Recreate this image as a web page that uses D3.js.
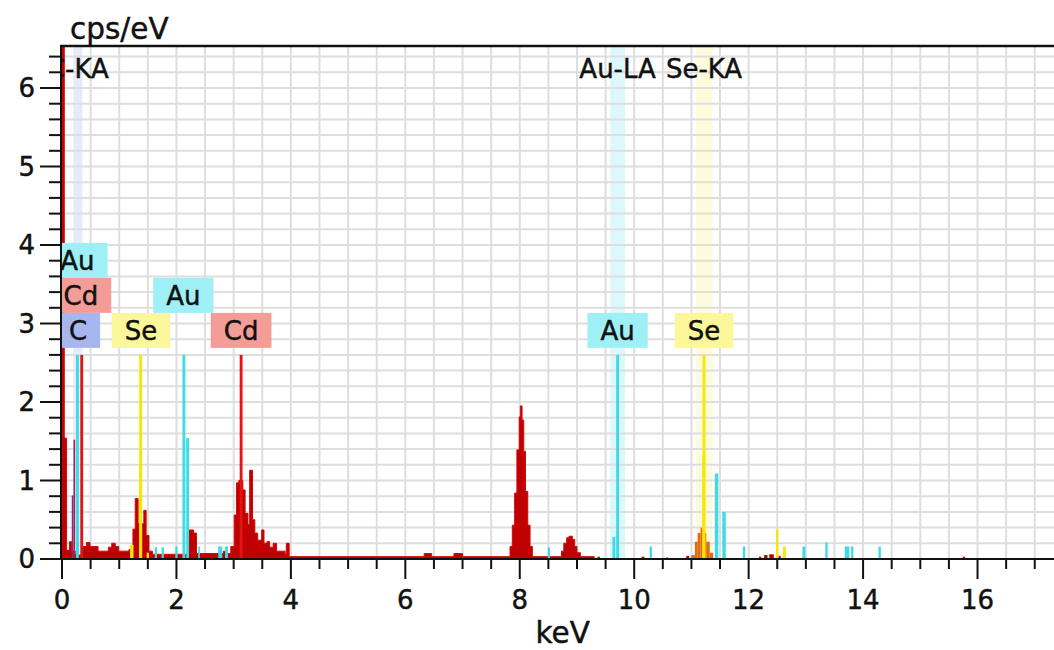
<!DOCTYPE html>
<html>
<head>
<meta charset="utf-8">
<script src="https://cdn.jsdelivr.net/npm/d3@7"></script>
<style>
  html, body { margin: 0; padding: 0; background: #fff; }
  svg { display: block; font-family: "DejaVu Sans", Verdana, sans-serif; }
  svg text { stroke: currentColor; stroke-width: 0.45px; color: #111; }
</style>
</head>
<body>
<svg id="chart" width="1054" height="650"></svg>
<script>
// ---- EDS spectrum data (energy in keV, intensity in cps/eV) ----

// Measured spectrum as a step histogram: [channel start keV, cps/eV]; each step runs to the next start.
const spectrumSteps = [
  [0.00, 7.00], [0.04, 1.54], [0.08, 0.11], [0.13, 0.22], [0.17, 0.10], [0.23, 0.05],
  [0.36, 0.16], [0.43, 0.21], [0.49, 0.16], [0.63, 0.10], [0.81, 0.15], [0.87, 0.20],
  [0.93, 0.16], [0.99, 0.10], [1.17, 0.12], [1.24, 0.38], [1.28, 0.77], [1.33, 0.45],
  [1.43, 0.62], [1.47, 0.30], [1.52, 0.10], [1.58, 0.06], [2.22, 0.37], [2.30, 0.33],
  [2.35, 0.07], [2.82, 0.10], [2.86, 0.07], [2.95, 0.16], [3.01, 0.56], [3.05, 0.97],
  [3.09, 1.00], [3.16, 0.88], [3.20, 0.58], [3.25, 0.44], [3.28, 1.13], [3.33, 0.50],
  [3.37, 0.33], [3.42, 0.24], [3.49, 0.37], [3.53, 0.20], [3.58, 0.22], [3.63, 0.15],
  [3.69, 0.20], [3.75, 0.10], [3.90, 0.06], [3.92, 0.20], [3.97, 0.03], [6.33, 0.07],
  [6.46, 0.03], [6.85, 0.07], [7.00, 0.03], [7.83, 0.16], [7.87, 0.43], [7.91, 0.84],
  [7.95, 1.39], [7.99, 1.81], [8.01, 1.95], [8.04, 1.77], [8.07, 1.37], [8.10, 0.86],
  [8.14, 0.43], [8.18, 0.16], [8.22, 0.03], [8.73, 0.10], [8.77, 0.20], [8.82, 0.27],
  [8.86, 0.29], [8.92, 0.25], [8.96, 0.16], [9.00, 0.08], [9.06, 0.03], [9.30, 0.00]
];

// Isolated counts above 9.3 keV: [start keV, end keV, cps/eV]
const sparseCounts = [
  [9.36, 9.40, 0.03], [10.13, 10.18, 0.03], [10.56, 10.59, 0.02], [10.91, 10.96, 0.04],
  [12.18, 12.22, 0.03], [12.27, 12.33, 0.05], [12.36, 12.44, 0.06], [12.52, 12.56, 0.04],
  [15.74, 15.78, 0.03]
];

// Fitted element contributions: [start keV, end keV, cps/eV]
const carbonFit = [[0.17, 0.20, 0.81], [0.20, 0.23, 1.52]];
const goldFit = [
  [1.62, 1.66, 0.15], [1.74, 1.78, 0.15], [1.98, 2.02, 0.16], [2.17, 2.22, 1.54],
  [2.38, 2.41, 0.16], [2.73, 2.80, 0.16], [2.85, 2.90, 0.16], [8.49, 8.53, 0.15],
  [9.62, 9.67, 0.28], [10.27, 10.31, 0.16], [11.19, 11.23, 0.16], [11.41, 11.47, 1.09],
  [11.54, 11.60, 0.60], [11.90, 11.94, 0.16], [12.94, 12.99, 0.16], [13.34, 13.38, 0.21],
  [13.68, 13.76, 0.16], [13.79, 13.83, 0.16], [14.27, 14.31, 0.16]
];
const seleniumKFit = [
  [11.00, 11.06, 0.05], [11.06, 11.11, 0.22], [11.11, 11.16, 0.33], [11.16, 11.22, 0.40],
  [11.22, 11.26, 0.33], [11.26, 11.32, 0.22], [11.32, 11.38, 0.08]
];
const seleniumFit = [
  [1.19, 1.25, 0.18], [1.35, 1.40, 1.22], [1.48, 1.52, 0.08], [11.19, 11.24, 1.32],
  [12.48, 12.52, 0.38], [12.60, 12.65, 0.16]
];

// Line markers: [keV, element]
const markerHeight = 2.6;
const lineMarkers = [
  [0.27, "Au"], [0.345, "Cd"], [1.375, "Se"], [2.13, "Au"], [3.13, "Cd"], [9.71, "Au"], [11.22, "Se"]
];

// Element tags stacked above the markers: [label, keV, row]
const elementTags = [
  ["Au", 0.27, 2], ["Cd", 0.33, 1], ["C", 0.28, 0], ["Se", 1.38, 0],
  ["Au", 2.12, 1], ["Cd", 3.13, 0], ["Au", 9.71, 0], ["Se", 11.22, 0]
];

// Selected line names with their energy window half-widths: [name, keV, half width keV, element]
const lineWindows = [
  ["C-KA", 0.277, 0.08, "C"], ["Au-LA", 9.71, 0.13, "Au"], ["Se-KA", 11.22, 0.145, "Se"]
];

const xTicks = [0, 2, 4, 6, 8, 10, 12, 14, 16];
const yTicks = [0, 1, 2, 3, 4, 5, 6];

// ---- styling ----
const elementColor = { Au: "#3cdbe6", Se: "#f5e800", Cd: "#e41414", C: "#8c2d64" };
const tagColor = { Au: "#9ff0f6", Cd: "#f49c96", C: "#a8b6f0", Se: "#fcf79a" };
const windowColor = { C: "#e6ebfa", Au: "#dcf8fc", Se: "#fdfbdc" };

const svg = d3.select("#chart");
const plotLeft = 62, plotRight = 1054, plotTop = 46, plotBottom = 559;

const x = d3.scaleLinear().domain([0, (plotRight - plotLeft) / 57.22]).range([plotLeft, plotRight]);
const y = d3.scaleLinear().domain([0, (plotBottom - plotTop) / 78.5]).range([plotBottom, plotTop]);

svg.append("defs").append("clipPath").attr("id", "plot")
  .append("rect").attr("x", plotLeft).attr("y", plotTop)
  .attr("width", plotRight - plotLeft).attr("height", plotBottom - plotTop);

const plot = svg.append("g").attr("clip-path", "url(#plot)");

// line energy windows
plot.selectAll("rect.window").data(lineWindows).join("rect")
  .attr("class", "window")
  .attr("x", d => x(d[1] - d[2])).attr("width", d => x(d[1] + d[2]) - x(d[1] - d[2]))
  .attr("y", plotTop).attr("height", plotBottom - plotTop)
  .attr("fill", d => windowColor[d[3]]);

// grid
const gx = d3.range(0.5, 17.5, 0.5);
const gy = d3.range(1, 33).map(i => i * 0.2);
plot.selectAll("line.gx").data(gx).join("line")
  .attr("class", "gx")
  .attr("x1", d => x(d)).attr("x2", d => x(d)).attr("y1", plotTop).attr("y2", plotBottom)
  .attr("stroke", "#dedede").attr("stroke-width", 2);
plot.selectAll("line.gy").data(gy).join("line")
  .attr("class", "gy")
  .attr("x1", plotLeft).attr("x2", plotRight).attr("y1", d => y(d)).attr("y2", d => y(d))
  .attr("stroke", "#dedede").attr("stroke-width", 2);

// measured spectrum: continuous step area, plus isolated channels
const spectrumArea = d3.area().curve(d3.curveStepAfter)
  .x(d => x(d[0])).y0(y(0)).y1(d => y(d[1]));
plot.append("path").datum(spectrumSteps)
  .attr("d", spectrumArea)
  .attr("fill", "#c00000").attr("stroke", "#d00808").attr("stroke-width", 1);

function drawBars(data, fill) {
  plot.append("g").selectAll("rect").data(data.filter(d => d[2] > 0)).join("rect")
    .attr("x", d => x(d[0])).attr("width", d => Math.max(1, x(d[1]) - x(d[0])))
    .attr("y", d => y(d[2])).attr("height", d => y(0) - y(d[2]))
    .attr("fill", fill);
}
drawBars(sparseCounts, "#c00000");
drawBars(seleniumKFit, "#e06a10");
drawBars(carbonFit, elementColor.C);
drawBars(goldFit, elementColor.Au);
drawBars(seleniumFit, elementColor.Se);

// line markers
plot.selectAll("rect.marker").data(lineMarkers).join("rect")
  .attr("class", "marker")
  .attr("x", d => x(d[0] - 0.025)).attr("width", d => x(d[0] + 0.025) - x(d[0] - 0.025))
  .attr("y", y(markerHeight)).attr("height", y(0) - y(markerHeight))
  .attr("fill", d => elementColor[d[1]]);

// element tags
const tagH = 35, tagGap = 7;
const tagG = plot.append("g").selectAll("g").data(elementTags).join("g");
tagG.each(function (d) {
  const g = d3.select(this);
  const by = y(markerHeight) - tagGap - (d[2] + 1) * tagH;
  const t = g.append("text").text(d[0])
    .attr("x", x(d[1])).attr("y", by + tagH / 2).attr("dy", "0.36em")
    .attr("text-anchor", "middle").attr("font-size", 26).attr("fill", "#111");
  const w = t.node().getComputedTextLength() + 26;
  g.insert("rect", "text")
    .attr("x", x(d[1]) - w / 2).attr("y", by).attr("width", w).attr("height", tagH)
    .attr("fill", tagColor[d[0]]);
});

// line names along the top
plot.selectAll("text.linename").data(lineWindows).join("text")
  .attr("class", "linename")
  .attr("x", d => x(d[1])).attr("y", 78)
  .attr("text-anchor", "middle").attr("font-size", 26).attr("fill", "#111")
  .text(d => d[0]);

// axes
const axisColor = "#111";
const xMinor = d3.range(0, 17.5, 0.5);
svg.append("g").selectAll("line").data(xMinor).join("line")
  .attr("x1", d => x(d)).attr("x2", d => x(d)).attr("y1", plotBottom)
  .attr("y2", d => plotBottom + (d % 2 === 0 ? 20 : 10))
  .attr("stroke", axisColor).attr("stroke-width", 2);
const yMinor = d3.range(0, 33).map(i => i * 0.2);
svg.append("g").selectAll("line").data(yMinor).join("line")
  .attr("y1", d => y(d)).attr("y2", d => y(d)).attr("x1", plotLeft)
  .attr("x2", d => plotLeft - (Math.abs(d - Math.round(d)) < 1e-6 ? 22 : 13))
  .attr("stroke", axisColor).attr("stroke-width", 2);

svg.append("line").attr("x1", plotLeft - 1).attr("x2", plotLeft - 1)
  .attr("y1", plotTop).attr("y2", plotBottom + 1)
  .attr("stroke", axisColor).attr("stroke-width", 2);
svg.append("line").attr("x1", plotLeft - 2).attr("x2", plotRight)
  .attr("y1", plotBottom).attr("y2", plotBottom)
  .attr("stroke", axisColor).attr("stroke-width", 2);
svg.append("line").attr("x1", plotLeft - 2).attr("x2", plotRight)
  .attr("y1", plotTop).attr("y2", plotTop)
  .attr("stroke", axisColor).attr("stroke-width", 2.5);

svg.append("g").selectAll("text").data(xTicks).join("text")
  .attr("x", d => x(d)).attr("y", 609).attr("text-anchor", "middle")
  .attr("font-size", 26).attr("fill", axisColor).text(d => d);
svg.append("g").selectAll("text").data(yTicks).join("text")
  .attr("x", 35).attr("y", d => y(d)).attr("dy", "0.36em").attr("text-anchor", "end")
  .attr("font-size", 26).attr("fill", axisColor).text(d => d);

svg.append("text").attr("x", 70).attr("y", 39).attr("font-size", 29.5).attr("fill", axisColor).text("cps/eV");
svg.append("text").attr("x", x(8.75)).attr("y", 643).attr("text-anchor", "middle")
  .attr("font-size", 29.5).attr("fill", axisColor).text("keV");
</script>
</body>
</html>
